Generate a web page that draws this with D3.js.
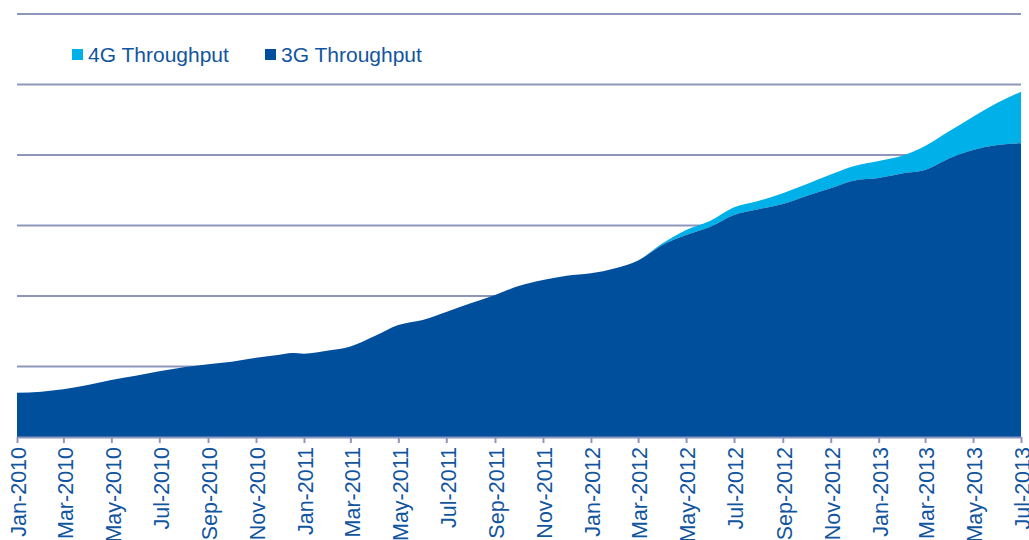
<!DOCTYPE html>
<html>
<head>
<meta charset="utf-8">
<script src="https://cdn.jsdelivr.net/npm/d3@7"></script>
<style>
  html, body { margin: 0; padding: 0; background: #ffffff; }
  svg { display: block; }
</style>
</head>
<body>
<svg id="chart" width="1029" height="540"></svg>
<script>
// ---- Data (arbitrary units, one gridline = 1) ----
const dates = [
  "2010-01-01","2010-02-01","2010-03-01","2010-04-01","2010-05-01","2010-06-01",
  "2010-07-01","2010-08-01","2010-09-01","2010-10-01","2010-11-01","2010-12-01",
  "2010-12-16","2011-01-01","2011-02-01","2011-03-01","2011-04-01","2011-05-01","2011-06-01",
  "2011-07-01","2011-08-01","2011-09-01","2011-10-01","2011-11-01","2011-12-01",
  "2012-01-01","2012-02-01","2012-03-01","2012-04-01","2012-05-01","2012-06-01",
  "2012-07-01","2012-08-01","2012-09-01","2012-10-01","2012-11-01","2012-12-01",
  "2013-01-01","2013-02-01","2013-03-01","2013-04-01","2013-05-01","2013-06-01",
  "2013-07-01"
];
const throughput3G = [
  0.628, 0.643, 0.677, 0.738, 0.809, 0.870,
  0.932, 0.989, 1.031, 1.068, 1.125, 1.167,
  1.192, 1.182, 1.227, 1.284, 1.433, 1.589, 1.660,
  1.773, 1.896, 2.014, 2.142, 2.227, 2.288,
  2.322, 2.393, 2.504, 2.723, 2.865, 2.983,
  3.149, 3.230, 3.305, 3.418, 3.528, 3.638,
  3.674, 3.740, 3.787, 3.953, 4.071, 4.142,
  4.166
];
const throughput4G = [
  0, 0, 0, 0, 0, 0,
  0, 0, 0, 0, 0, 0,
  0, 0, 0, 0, 0, 0, 0,
  0, 0, 0, 0, 0, 0,
  0, 0, 0, 0.024, 0.071, 0.085,
  0.109, 0.118, 0.152, 0.166, 0.195, 0.206,
  0.241, 0.252, 0.341, 0.387, 0.473, 0.598,
  0.732
];
const seriesNames = ["3G Throughput", "4G Throughput"];
const legendOrder = ["4G Throughput", "3G Throughput"];
const tickLabels = [
  "Jan-2010","Mar-2010","May-2010","Jul-2010","Sep-2010","Nov-2010",
  "Jan-2011","Mar-2011","May-2011","Jul-2011","Sep-2011","Nov-2011",
  "Jan-2012","Mar-2012","May-2012","Jul-2012","Sep-2012","Nov-2012",
  "Jan-2013","Mar-2013","May-2013","Jul-2013"
];
const gridValues = [1, 2, 3, 4, 5, 6];

// ---- Styling ----
const colors = { "3G Throughput": "#004f9d", "4G Throughput": "#00b1e9" };
const gridColor = "#8e97bb";
const textColor = "#12559f";

const svg = d3.select("#chart");
const parse = d3.timeParse("%Y-%m-%d");
const fmt = d3.timeFormat("%b-%Y");

const rows = dates.map((d, i) => ({
  date: parse(d),
  "3G Throughput": throughput3G[i],
  "4G Throughput": throughput4G[i]
}));

const x = d3.scaleTime()
  .domain([parse("2010-01-01"), parse("2013-07-01")])
  .range([17, 1021]);
const y = d3.scaleLinear().domain([0, 6]).range([437, 14]);

// gridlines
svg.append("g").selectAll("line").data(gridValues).join("line")
  .attr("x1", 17).attr("x2", 1021)
  .attr("y1", d => y(d)).attr("y2", d => y(d))
  .attr("stroke", gridColor).attr("stroke-width", 2);

// stacked areas
const stack = d3.stack().keys(seriesNames);
const layers = stack(rows);
const area = d3.area()
  .x(d => x(d.data.date))
  .y0(d => y(d[0]))
  .y1(d => y(d[1]))
  .curve(d3.curveMonotoneX);

svg.append("g").selectAll("path").data(layers.slice().reverse()).join("path")
  .attr("d", area)
  .attr("fill", d => colors[d.key]);

// x axis
const tickDates = tickLabels.map(t => d3.timeParse("%b-%Y")(t));
const xAxis = d3.axisBottom(x)
  .tickValues(tickDates)
  .tickSize(6)
  .tickSizeOuter(0)
  .tickFormat(fmt);

const gx = svg.append("g").attr("transform", "translate(0,437)").call(xAxis);
gx.select(".domain").attr("stroke", gridColor).attr("stroke-width", 2);
gx.selectAll(".tick line").attr("stroke", gridColor).attr("stroke-width", 2);
gx.selectAll(".tick text")
  .attr("fill", textColor)
  .style("font-family", "Liberation Sans, Arial, sans-serif")
  .style("font-size", "21.5px")
  .attr("transform", "rotate(-90)")
  .attr("text-anchor", "end")
  .attr("x", -10)
  .attr("y", 1)
  .attr("dy", "0.36em");

// legend
const legend = svg.append("g");
const legendX = [72, 265];
legendOrder.forEach((name, i) => {
  const g = legend.append("g").attr("transform", `translate(${legendX[i]},49)`);
  g.append("rect").attr("width", 11).attr("height", 11).attr("fill", colors[name]);
  g.append("text")
    .attr("x", 16).attr("y", 13)
    .attr("fill", textColor)
    .style("font-family", "Liberation Sans, Arial, sans-serif")
    .style("font-size", "21px")
    .text(name);
});
</script>
</body>
</html>
